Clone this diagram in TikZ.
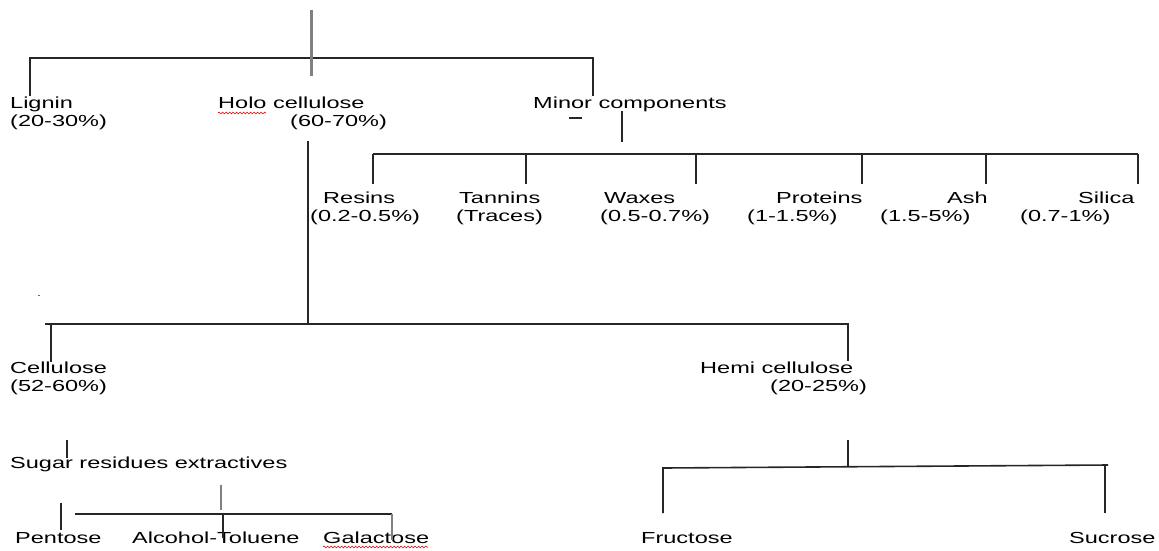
\documentclass[tikz,border=0pt]{standalone}
\usepackage{fontspec}
\setmainfont{Liberation Sans}[FakeStretch=1.47]
\usetikzlibrary{decorations.pathmorphing}
\begin{document}
\begin{tikzpicture}[x=1pt,y=-1pt,
  lbl/.style={inner sep=0pt, anchor=base west, font=\fontsize{16}{18}\selectfont, text=black},
  conn/.style={draw=black!85, line width=1.6pt},
  gconn/.style={draw=black!50, line width=3pt},
  squig/.style={draw=red!85!black, line width=0.6pt, decorate, decoration={snake, amplitude=0.9pt, segment length=3.5pt}}]
\useasboundingbox (0,0) rectangle (1159,550);
% ---- text nodes ----
\node[lbl] (lig1) at (10,108) {Lignin};
\node[lbl] (lig2) at (10,126) {(20-30\%)};
\node[lbl] (holo1) at (218,108) {Holo cellulose};
\node[lbl] (holo2) at (290,126) {(60-70\%)};
\node[lbl] (minor) at (533,108) {Minor components};
\node[lbl] (res1) at (323,203) {Resins};
\node[lbl] (res2) at (310,221) {(0.2-0.5\%)};
\node[lbl] (tan1) at (459,203) {Tannins};
\node[lbl] (tan2) at (456,221) {(Traces)};
\node[lbl] (wax1) at (604,203) {Waxes};
\node[lbl] (wax2) at (600,221) {(0.5-0.7\%)};
\node[lbl] (pro1) at (776,203) {Proteins};
\node[lbl] (pro2) at (747,221) {(1-1.5\%)};
\node[lbl] (ash1) at (947,203) {Ash};
\node[lbl] (ash2) at (880,221) {(1.5-5\%)};
\node[lbl] (sil1) at (1078,203) {Silica};
\node[lbl] (sil2) at (1020,221) {(0.7-1\%)};
\node[lbl] (cel1) at (10,373) {Cellulose};
\node[lbl] (cel2) at (10,391) {(52-60\%)};
\node[lbl] (hem1) at (700,373) {Hemi cellulose};
\node[lbl] (hem2) at (770,391) {(20-25\%)};
\node[lbl] (sug) at (10,468) {Sugar residues extractives};
\node[lbl] (pen) at (15,543) {Pentose};
\node[lbl] (alc) at (132,543) {Alcohol-Toluene};
\node[lbl] (gal) at (323,543) {Galactose};
\node[lbl] (fru) at (641,543) {Fructose};
\node[lbl] (suc) at (1069,543) {Sucrose};
% ---- junction coordinates ----
\coordinate (root) at (311,10);
\coordinate (rootb) at (311,76);
\coordinate (tl) at (30,58);
\coordinate (tr) at (593,58);
\coordinate (ligtop) at (30,96);
\coordinate (mintop) at (593,96);
\coordinate (minA) at (622,111);
\coordinate (minB) at (622,142);
\coordinate (holoA) at (308,141);
\coordinate (holoB) at (308,324);
\coordinate (celH) at (45,324);
\coordinate (hemH) at (848,324);
% ---- connectors ----
\draw[conn] (ligtop) -- (tl) -- (tr) -- (mintop);
\draw[gconn] (root) -- (rootb);
\draw[conn] (569,118) -- (582,118);
\draw[conn] (minA) -- (minB);
\draw[conn] (373,154) -- (1138,154);
\foreach \x in {373,526,696,862,986,1138} \draw[conn] (\x,154) -- (\x,184);
\draw[conn] (holoA) -- (holoB);
\draw[conn] (celH) -- (hemH) -- (848,361);
\draw[conn] (51,324) -- (51,362);
\draw[black!60, line width=0.8pt] (38,295) -- (40,295);
\draw[conn] (67,440) -- (67,458);
\draw[gconn, line width=2pt] (221,485) -- (221,510);
\draw[conn] (75,514) -- (392,514);
\draw[conn] (61,503) -- (61,530);
\draw[conn] (223,514) -- (223,538);
\draw[gconn, line width=2pt] (392,514) -- (392,540);
\draw[conn] (848,440) -- (848,466);
\draw[conn] (663,513) -- (663,468) -- (1108,465);
\draw[conn] (1105,465) -- (1105,513);
% ---- spell-check squiggles ----
\draw[squig] (218,113) -- (266,113);
\draw[squig] (323,547) -- (428,547);
\end{tikzpicture}
\end{document}
